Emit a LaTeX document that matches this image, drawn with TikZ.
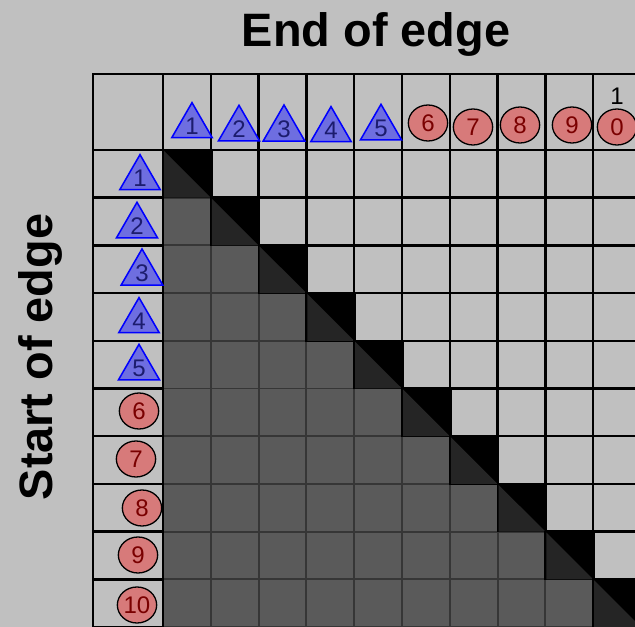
\documentclass[tikz,border=0pt]{standalone}
\usepackage{fontspec}
\setsansfont{Liberation Sans}
\usepackage{tikz}
\usetikzlibrary{shapes.geometric}
\definecolor{panel}{HTML}{C0C0C0}
\definecolor{lower}{HTML}{5A5A5A}
\definecolor{lowline}{HTML}{363636}
\definecolor{diagtri}{HTML}{252525}
\definecolor{trifill}{HTML}{6E6EE0}
\definecolor{tritext}{HTML}{1C1C6E}
\definecolor{dotfill}{HTML}{D77A7A}
\definecolor{dottext}{HTML}{7A0000}
\tikzset{
  gridline/.style={draw=black,line width=2.2pt},
  lowcell/.style={fill=lower,draw=lowline,line width=1.6pt},
  tri/.style={regular polygon,regular polygon sides=3,draw=blue,fill=trifill,text=tritext,
    minimum size=1.4cm,inner sep=0pt,line width=1.3pt},
  dot/.style={ellipse,draw=black,fill=dotfill,text=dottext,
    minimum width=1.18cm,minimum height=1.08cm,inner sep=0pt,line width=1.1pt},
  title/.style={font=\fontsize{40}{40}\selectfont\sffamily\bfseries}
}

\begin{document}
\begin{tikzpicture}[x=0.03cm,y=-0.03cm,font=\fontsize{20.5}{21}\selectfont\sffamily]
\fill[panel] (0,0) rectangle (635,627);
\useasboundingbox (0,0) rectangle (635,627);
\clip (0,0) rectangle (635,627);
% cells above the diagonal
\foreach \r in {1,...,10}{
  \foreach \c in {1,...,10}{
    \pgfmathsetmacro\xa{163+(\c-1)*47.8}
    \pgfmathsetmacro\ya{150+(\r-1)*47.7}
    \ifnum\r<\c \draw[gridline] (\xa,\ya) rectangle ++(47.8,47.7); \fi
  }
}
% cells below the diagonal
\foreach \r in {1,...,10}{
  \foreach \c in {1,...,10}{
    \pgfmathsetmacro\xa{163+(\c-1)*47.8}
    \pgfmathsetmacro\ya{150+(\r-1)*47.7}
    \ifnum\r>\c \draw[lowcell] (\xa,\ya) rectangle ++(47.8,47.7); \fi
  }
}
% diagonal cells
\foreach \k in {1,...,10}{
  \pgfmathsetmacro\xa{163+(\k-1)*47.8}
  \pgfmathsetmacro\ya{150+(\k-1)*47.7}
  \fill[black] (\xa-1,\ya-1) rectangle ++(50.5,49.5);
  \fill[diagtri] (\xa+1,\ya+1) -- (\xa+1,\ya+47.7) -- (\xa+47.8,\ya+47.7) -- cycle;
}
% header row and column
\draw[gridline] (93,74) rectangle (163,150);
\foreach \k in {1,...,10}{
  \draw[gridline] (163+\k*47.8-47.8,74) rectangle ++(47.8,76);
  \draw[gridline] (93,150+\k*47.7-47.7) rectangle ++(70,47.7);
}
% end of edge
\foreach \n/\x/\y in {1/192/126,2/239/129,3/284/129,4/331/130,5/381/128}
  \node[tri] (e\n) at (\x,\y) {\n};
\foreach \n/\x/\y in {6/428/123,7/473/127,8/520/125,9/572/125}
  \node[dot] (e\n) at (\x,\y) {\n};
\node[dot] (e10) at (617,127) {0};
\node (e10a) at (617,96) {1};
% start of edge
\foreach \n/\x/\y in {1/140/178,2/137/226,3/142/273,4/139/321,5/139/368}
  \node[tri] (s\n) at (\x,\y) {\n};
\foreach \n/\x/\y in {6/139/411,7/136/459,8/142/508,9/138/555,10/137/605}
  \node[dot] (s\n) at (\x,\y) {\n};
\node[title,anchor=base] (endlab) at (376,47) {End of edge};
\node[title,anchor=base,rotate=90] (startlab) at (53,357) {Start of edge};
\end{tikzpicture}
\end{document}
